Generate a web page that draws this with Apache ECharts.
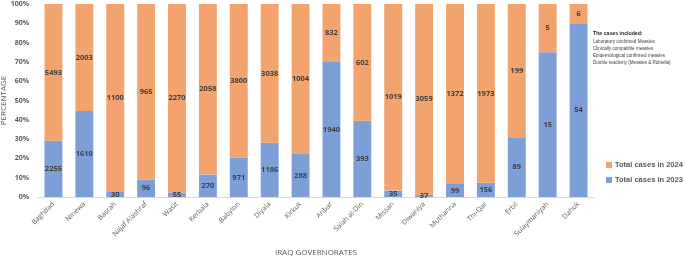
<!DOCTYPE html>
<html>
<head>
<meta charset="utf-8">
<script src="https://cdn.jsdelivr.net/npm/echarts@6/dist/echarts.min.js"></script>
<style>
  html, body { margin: 0; padding: 0; background: #fff; }
  #show_picture { width: 685px; height: 257px; }
</style>
</head>
<body>
<div id="show_picture"></div>
<script>
const governorates = ['Baghdad', 'Ninewa', 'Basrah', 'Najaf Alashraf', 'Wasit', 'Kerbala', 'Babylon', 'Diyala', 'Kirkuk',
    'Anbar', 'Salah al-Din', 'Missan', 'Diwaniya', 'Muthanna', 'Thi-Qar', 'Erbil', 'Sulaymaniyah', 'Dahuk'];
const cases2023 = [2255, 1610, 30, 96, 55, 270, 971, 1186, 288, 1940, 393, 35, 37, 99, 156, 89, 15, 54];
const cases2024 = [5493, 2003, 1100, 965, 2270, 2058, 3800, 3038, 1004, 832, 602, 1019, 3059, 1372, 1973, 199, 5, 6];
const yTicks = [0, 10, 20, 30, 40, 50, 60, 70, 80, 90, 100];

let myChart = echarts.init(document.getElementById('show_picture'));

// 100% stacked: each bar is scaled to its own total, label keeps the raw count
let share = (arr, i) => arr[i] / (cases2023[i] + cases2024[i]) * 100;
let d2023 = cases2023.map((v, i) => ({value: share(cases2023, i), raw: v}));
let d2024 = cases2024.map((v, i) => ({value: share(cases2024, i), raw: v}));

let lbl = {
    show: true,
    position: 'inside',
    color: '#404040',
    fontSize: 7.5,
    fontWeight: 'bold',
    fontFamily: 'Open Sans',
    formatter: p => String(p.data.raw)
};

let option = {
    animation: false,
    grid: {left: 38, right: 91, top: 4, bottom: 60, outerBoundsMode: 'none'},
    legend: {
        orient: 'vertical',
        left: 601,
        top: 156,
        itemWidth: 6,
        itemHeight: 6,
        itemGap: 7,
        icon: 'rect',
        data: ['Total cases in 2024', 'Total cases in 2023'],
        textStyle: {color: '#595959', fontSize: 7.5, fontWeight: 'bold', fontFamily: 'Liberation Sans', padding: [0, 0, 0, -2]}
    },
    graphic: [{
        type: 'text',
        left: 593,
        top: 30,
        style: {
            text: '{b|The cases included:}\nLaboratory confirmed Measles\nClinically compatible measles\nEpidemiological confirmed measles\nDouble reactivity (Measles & Rubiella)',
            fill: '#404040',
            fontSize: 4.6,
            lineHeight: 7,
            fontFamily: 'Liberation Sans',
            rich: {b: {fontWeight: 'bold', fontSize: 5.2, fill: '#262626', lineHeight: 8}}
        }
    }],
    xAxis: {
        type: 'category',
        data: governorates,
        name: 'IRAQ GOVERNORATES',
        nameLocation: 'middle',
        nameGap: 52,
        nameMoveOverlap: false,
        nameTextStyle: {color: '#595959', fontSize: 8, fontFamily: 'Open Sans'},
        axisLine: {lineStyle: {color: '#d9d9d9'}},
        axisTick: {show: false},
        axisLabel: {rotate: 45, interval: 0, color: '#595959', fontSize: 7, fontFamily: 'Open Sans', margin: 6}
    },
    yAxis: {
        type: 'value',
        min: 0,
        max: 100,
        interval: 10,
        name: 'PERCENTAGE',
        nameLocation: 'middle',
        nameGap: 30,
        nameMoveOverlap: false,
        nameTextStyle: {color: '#595959', fontSize: 8, fontFamily: 'Open Sans'},
        axisLine: {show: false},
        axisTick: {show: false},
        splitLine: {show: false},
        axisLabel: {
            color: '#595959', fontSize: 7, fontWeight: 'bold', fontFamily: 'Open Sans', margin: 9,
            formatter: v => yTicks.includes(v) ? v + '%' : ''
        }
    },
    series: [
        {
            name: 'Total cases in 2023',
            type: 'bar',
            stack: 'total',
            barWidth: '58%',
            itemStyle: {color: '#7c9fd8'},
            label: lbl,
            data: d2023
        },
        {
            name: 'Total cases in 2024',
            type: 'bar',
            stack: 'total',
            barWidth: '58%',
            itemStyle: {color: '#f2a36e'},
            label: lbl,
            data: d2024
        }
    ]
};

option && myChart.setOption(option);
</script>
</body>
</html>
